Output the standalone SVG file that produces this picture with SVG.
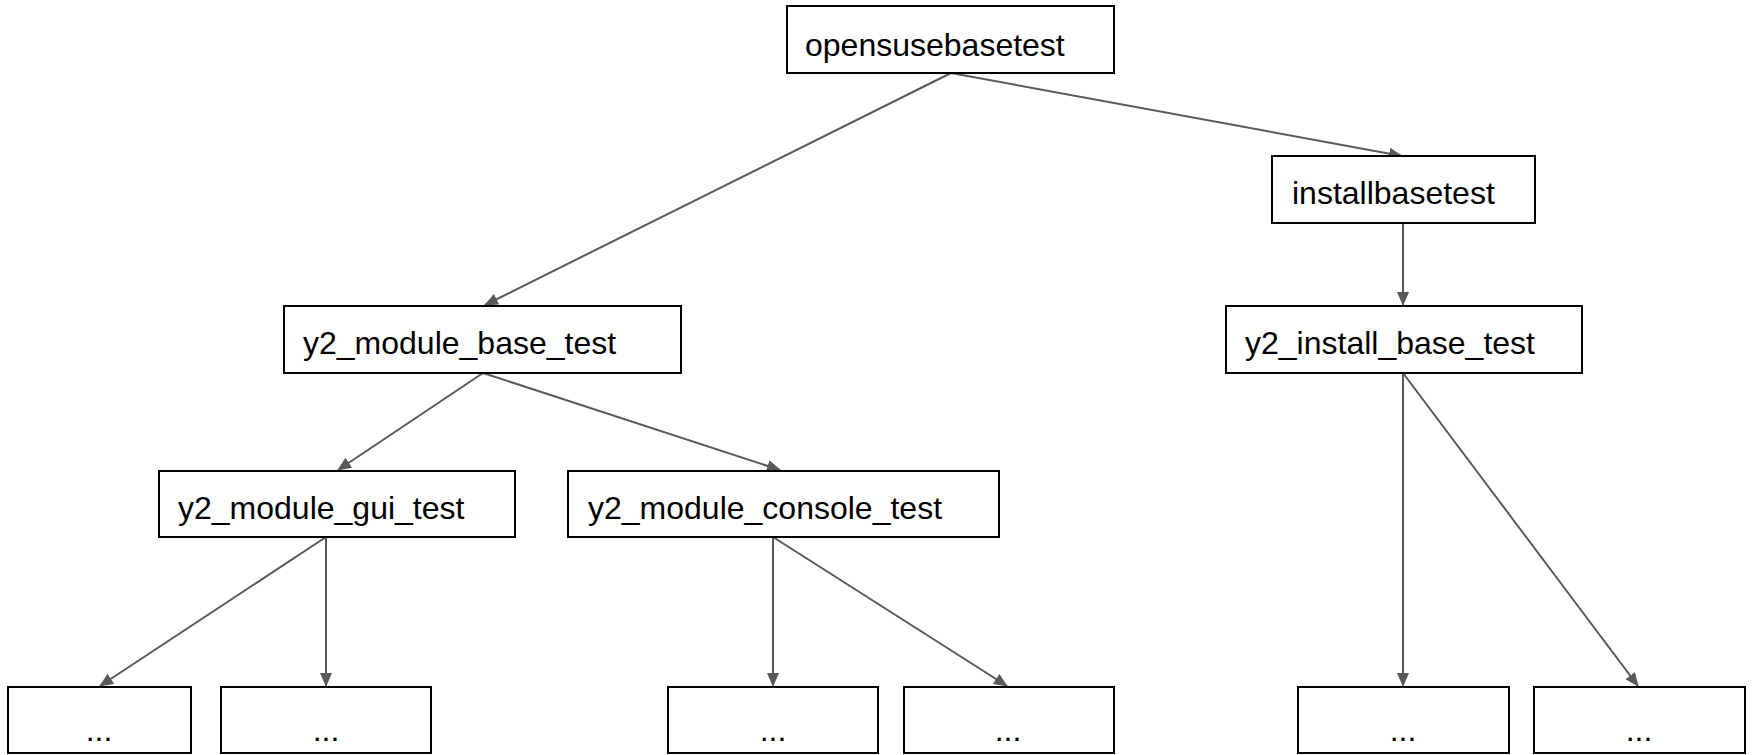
<svg xmlns="http://www.w3.org/2000/svg" width="1753" height="755" viewBox="0 0 1753 755">
<style>
.box{fill:#fff;stroke:#000;stroke-width:2}
.lbl{font-family:"Liberation Sans",Arial,sans-serif;font-size:32px;fill:#000}
.dots{font-family:"Liberation Sans",Arial,sans-serif;font-size:32px;fill:#000;text-anchor:middle}
.edge{stroke:#595959;stroke-width:2;fill:none;marker-end:url(#arr)}
</style>
<defs>
<marker id="arr" markerUnits="userSpaceOnUse" markerWidth="14" markerHeight="12" viewBox="0 0 14 12" refX="13" refY="6" orient="auto">
<path d="M0,0 L14,6 L0,12 Z" fill="#595959"/>
</marker>
</defs>
<rect width="1753" height="755" fill="#fff"/>
<g id="connectors">
<line class="edge" x1="951" y1="73" x2="485" y2="305"/>
<line class="edge" x1="951" y1="73" x2="1402" y2="156"/>
<line class="edge" x1="1403" y1="223" x2="1403" y2="305"/>
<line class="edge" x1="483" y1="373" x2="338" y2="470"/>
<line class="edge" x1="483" y1="373" x2="780" y2="470"/>
<line class="edge" x1="326" y1="537" x2="100" y2="686"/>
<line class="edge" x1="326" y1="537" x2="326" y2="686"/>
<line class="edge" x1="773" y1="537" x2="773" y2="686"/>
<line class="edge" x1="773" y1="537" x2="1007" y2="686"/>
<line class="edge" x1="1403" y1="373" x2="1403" y2="686"/>
<line class="edge" x1="1403" y1="373" x2="1638" y2="686"/>
</g>
<g id="opensusebasetest">
<rect class="box" x="787" y="6" width="327" height="67"/>
<text class="lbl" x="805" y="56">opensusebasetest</text>
</g>
<g id="installbasetest">
<rect class="box" x="1272" y="156" width="263" height="67"/>
<text class="lbl" x="1292" y="204">installbasetest</text>
</g>
<g id="y2_module_base_test">
<rect class="box" x="284" y="306" width="397" height="67"/>
<text class="lbl" x="303" y="354">y2_module_base_test</text>
</g>
<g id="y2_install_base_test">
<rect class="box" x="1226" y="306" width="356" height="67"/>
<text class="lbl" x="1245" y="354">y2_install_base_test</text>
</g>
<g id="y2_module_gui_test">
<rect class="box" x="159" y="471" width="356" height="66"/>
<text class="lbl" x="178" y="519">y2_module_gui_test</text>
</g>
<g id="y2_module_console_test">
<rect class="box" x="568" y="471" width="431" height="66"/>
<text class="lbl" x="588" y="519">y2_module_console_test</text>
</g>
<g id="leaf1">
<rect class="box" x="8" y="687" width="183" height="66"/>
<text class="dots" x="99" y="741">...</text>
</g>
<g id="leaf2">
<rect class="box" x="221" y="687" width="210" height="66"/>
<text class="dots" x="326" y="741">...</text>
</g>
<g id="leaf3">
<rect class="box" x="668" y="687" width="210" height="66"/>
<text class="dots" x="773" y="741">...</text>
</g>
<g id="leaf4">
<rect class="box" x="904" y="687" width="210" height="66"/>
<text class="dots" x="1008" y="741">...</text>
</g>
<g id="leaf5">
<rect class="box" x="1298" y="687" width="211" height="66"/>
<text class="dots" x="1403" y="741">...</text>
</g>
<g id="leaf6">
<rect class="box" x="1534" y="687" width="211" height="66"/>
<text class="dots" x="1639" y="741">...</text>
</g>
</svg>
